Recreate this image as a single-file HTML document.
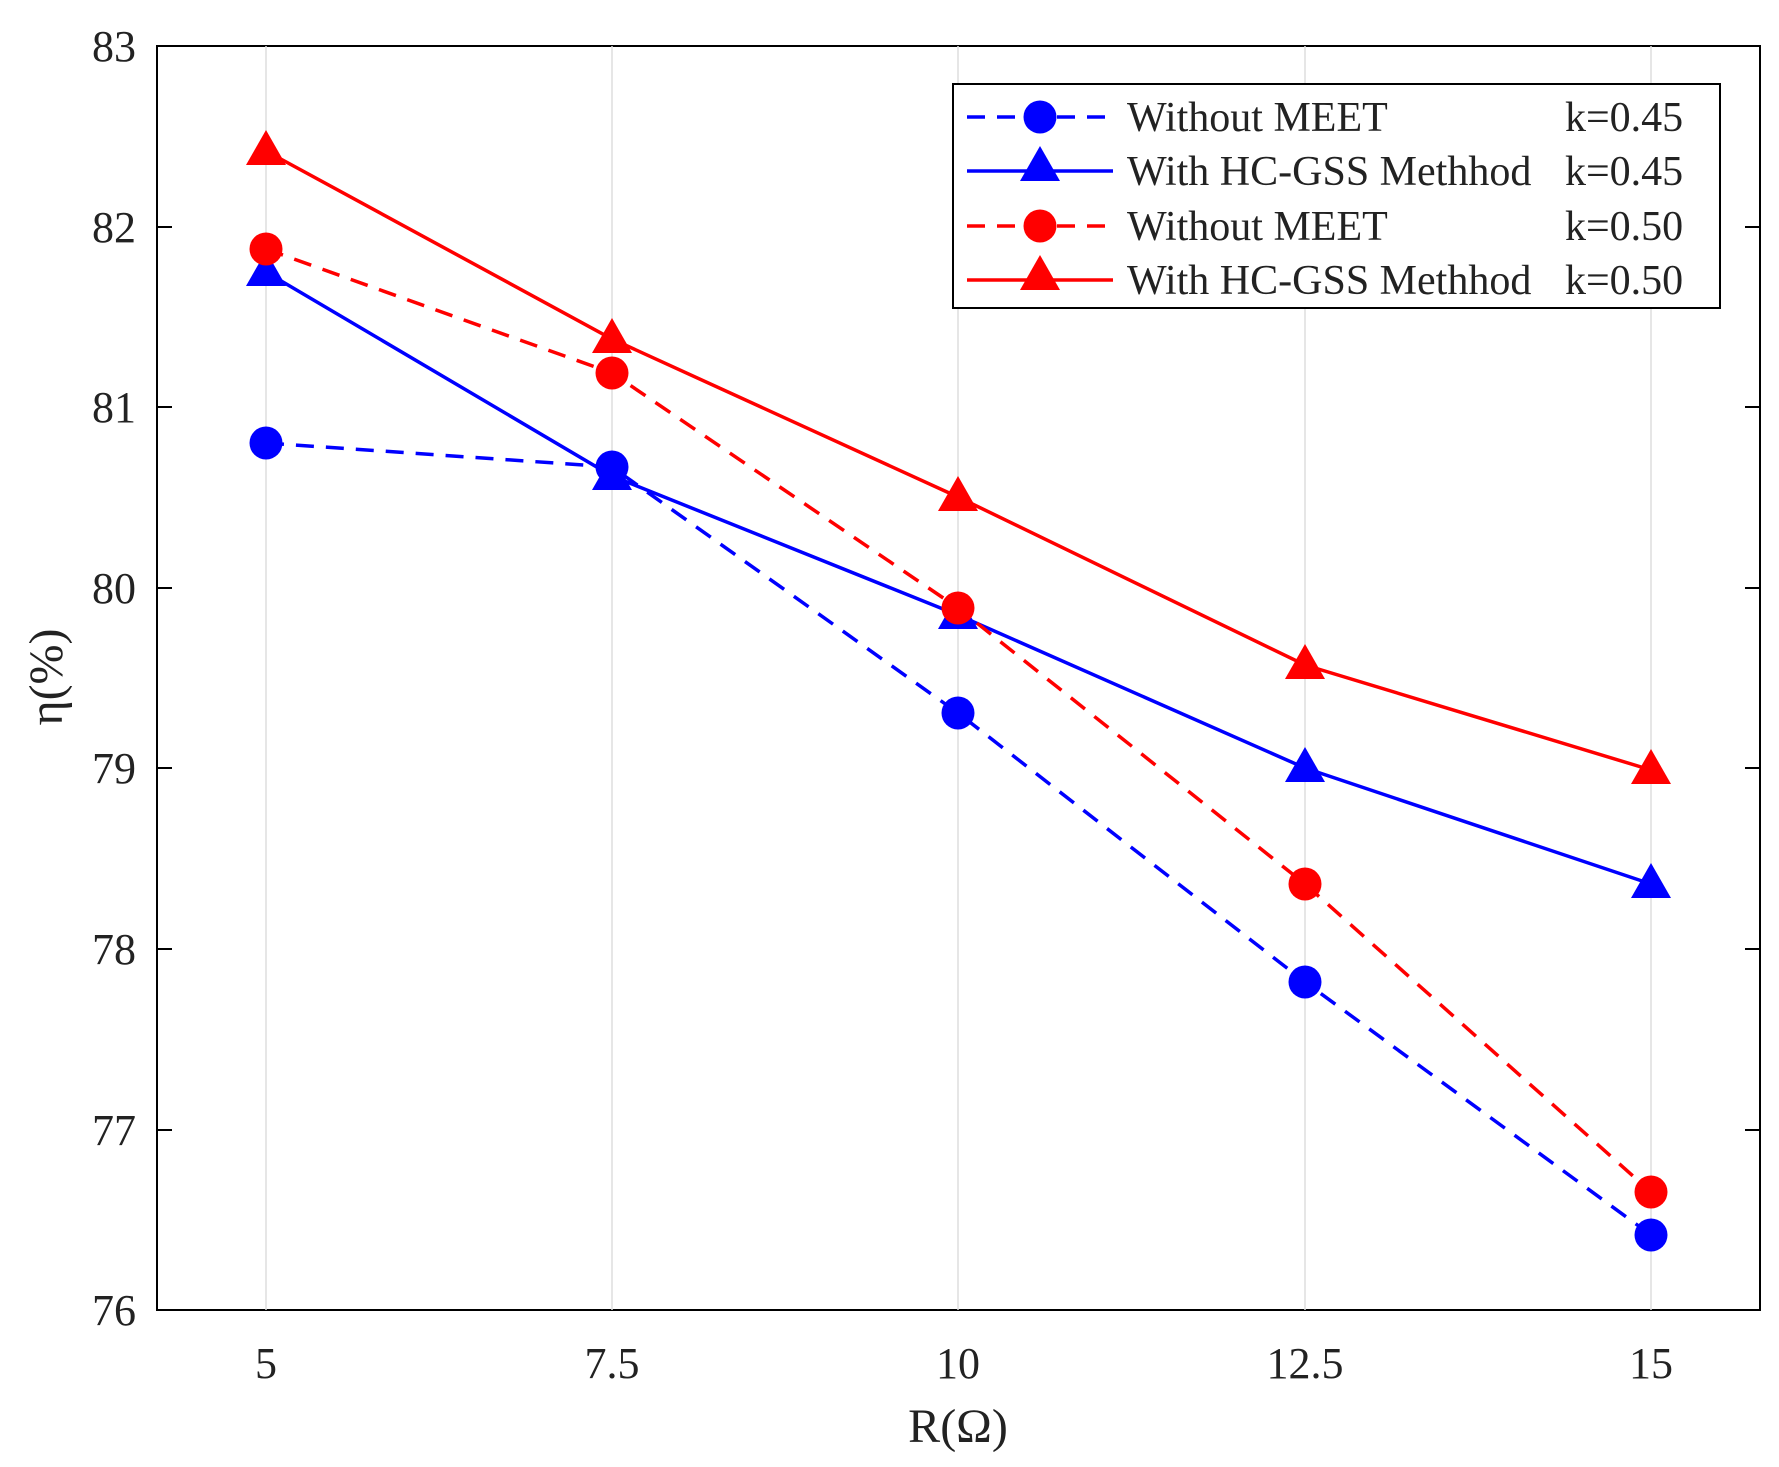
<!DOCTYPE html>
<html><head><style>body{margin:0;background:#fff}</style></head><body>
<svg width="1779" height="1462" xmlns="http://www.w3.org/2000/svg" font-family="Liberation Serif, serif">
<defs>
<g id="c"><circle r="16.5"/></g>
<g id="t"><polygon points="0,-21 20,14 -20,14"/></g>
</defs>
<rect x="157" y="46" width="1603" height="1264" fill="#fff" stroke="#000" stroke-width="2"/>
<g stroke="#ddd" stroke-width="1.5">
<line x1="266" y1="46" x2="266" y2="1310"/><line x1="612" y1="46" x2="612" y2="1310"/><line x1="958" y1="46" x2="958" y2="1310"/><line x1="1305" y1="46" x2="1305" y2="1310"/><line x1="1651" y1="46" x2="1651" y2="1310"/>
</g>
<g stroke="#000" stroke-width="2">
<line x1="157" y1="227" x2="172" y2="227"/><line x1="157" y1="407" x2="172" y2="407"/><line x1="157" y1="588" x2="172" y2="588"/><line x1="157" y1="768" x2="172" y2="768"/><line x1="157" y1="949" x2="172" y2="949"/><line x1="157" y1="1130" x2="172" y2="1130"/>
<line x1="1745" y1="227" x2="1760" y2="227"/><line x1="1745" y1="407" x2="1760" y2="407"/><line x1="1745" y1="588" x2="1760" y2="588"/><line x1="1745" y1="768" x2="1760" y2="768"/><line x1="1745" y1="949" x2="1760" y2="949"/><line x1="1745" y1="1130" x2="1760" y2="1130"/>
</g>
<g font-size="44" text-anchor="end" fill="#222">
<text x="136" y="61">83</text><text x="136" y="242">82</text><text x="136" y="422">81</text><text x="136" y="603">80</text><text x="136" y="783">79</text><text x="136" y="964">78</text><text x="136" y="1145">77</text><text x="136" y="1325">76</text>
</g>
<g font-size="44" text-anchor="middle" fill="#222">
<text x="266" y="1378">5</text><text x="612" y="1378">7.5</text><text x="958" y="1378">10</text><text x="1305" y="1378">12.5</text><text x="1651" y="1378">15</text>
<text x="958" y="1442" font-size="48">R(Ω)</text>
<text transform="translate(62,677) rotate(-90)" font-size="48">η(%)</text>
</g>
<polyline fill="none" stroke="#00f" stroke-width="3.5" stroke-dasharray="18,12" points="266,443 612,467 958,713 1305,982 1651,1235"/>
<polyline fill="none" stroke="#00f" stroke-width="3.5" points="266,272 612,476 958,615 1305,768 1651,884"/>
<polyline fill="none" stroke="#f00" stroke-width="3.5" stroke-dasharray="18,12" points="266,249 612,373 958,608 1305,884 1651,1192"/>
<polyline fill="none" stroke="#f00" stroke-width="3.5" points="266,151 612,339 958,497 1305,665 1651,770"/>
<g fill="#00f">
<use href="#c" x="266" y="443"/><use href="#c" x="612" y="467"/><use href="#c" x="958" y="713"/><use href="#c" x="1305" y="982"/><use href="#c" x="1651" y="1235"/>
<use href="#t" x="266" y="272"/><use href="#t" x="612" y="476"/><use href="#t" x="958" y="615"/><use href="#t" x="1305" y="768"/><use href="#t" x="1651" y="884"/>
</g>
<g fill="#f00">
<use href="#c" x="266" y="249"/><use href="#c" x="612" y="373"/><use href="#c" x="958" y="608"/><use href="#c" x="1305" y="884"/><use href="#c" x="1651" y="1192"/>
<use href="#t" x="266" y="151"/><use href="#t" x="612" y="339"/><use href="#t" x="958" y="497"/><use href="#t" x="1305" y="665"/><use href="#t" x="1651" y="770"/>
</g>
<rect x="953" y="84" width="767" height="224" fill="#fff" stroke="#000" stroke-width="2"/>
<line x1="967" y1="117" x2="1113" y2="117" stroke="#00f" stroke-width="3.5" stroke-dasharray="18,12"/><use href="#c" x="1040" y="117" fill="#00f"/>
<line x1="967" y1="171" x2="1113" y2="171" stroke="#00f" stroke-width="3.5"/><use href="#t" x="1040" y="167" fill="#00f"/>
<line x1="967" y1="226" x2="1113" y2="226" stroke="#f00" stroke-width="3.5" stroke-dasharray="18,12"/><use href="#c" x="1040" y="226" fill="#f00"/>
<line x1="967" y1="280" x2="1113" y2="280" stroke="#f00" stroke-width="3.5"/><use href="#t" x="1040" y="276" fill="#f00"/>
<g font-size="42" fill="#222">
<text x="1127" y="131">Without MEET</text><text x="1565" y="131">k=0.45</text>
<text x="1127" y="185">With HC-GSS Methhod</text><text x="1565" y="185">k=0.45</text>
<text x="1127" y="240">Without MEET</text><text x="1565" y="240">k=0.50</text>
<text x="1127" y="294">With HC-GSS Methhod</text><text x="1565" y="294">k=0.50</text>
</g>
</svg>
</body></html>
